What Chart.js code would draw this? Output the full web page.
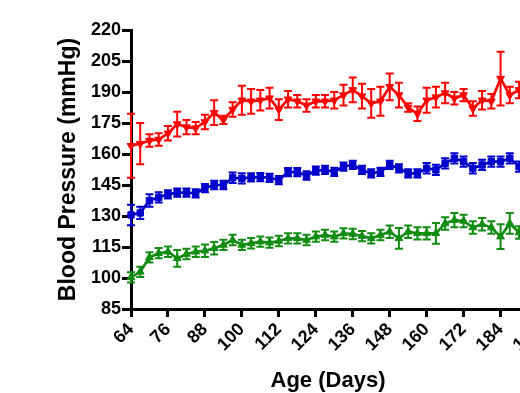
<!DOCTYPE html>
<html>
<head>
<meta charset="utf-8">
<script src="https://cdn.jsdelivr.net/npm/chart.js@4.4.1/dist/chart.umd.min.js"></script>
<style>
  html, body { margin: 0; padding: 0; background: #fff; overflow: hidden; }
  #wrap { width: 520px; height: 393px; overflow: hidden; }
</style>
</head>
<body>
<div id="wrap"><canvas id="bp" width="600" height="393"></canvas></div>
<script>
// ── Dados
const days = [64, 67, 70, 73, 76, 79, 82, 85, 88, 91, 94, 97, 100, 103, 106, 109, 112, 115, 118, 121, 124, 127,
  130, 133, 136, 139, 142, 145, 148, 151, 154, 157, 160, 163, 166, 169, 172, 175, 178, 181, 184, 187, 190];

const redMean = [164, 165, 166.5, 167, 170, 174.5, 173, 172.5, 175.5, 180, 176.5, 181.5, 186, 185.5, 186, 187,
  181.5, 186.5, 185.5, 183.5, 185.5, 185.5, 186, 188.5, 191, 188, 184.5, 185.5, 192.5, 188.5, 182.5, 179.5,
  186, 187.5, 189.5, 187, 188.5, 182, 186, 185.5, 196.5, 188.5, 191];
const redErr = [15.5, 10, 3, 3, 3.5, 6, 3.5, 3, 3.5, 6, 2, 3.5, 7, 6, 5, 5, 5, 4, 3, 3, 3, 3, 4, 5, 6, 6, 7, 7,
  6.5, 6, 2, 3.5, 6, 5, 5, 3, 3, 3.5, 4.5, 3.5, 13, 4, 4];

const blueMean = [130.5, 131.5, 137.5, 139, 140.5, 141.3, 141.3, 141, 143.5, 145, 145, 148.5, 148.2, 148.7, 148.8,
  148.5, 147.4, 151.2, 151.2, 149.6, 152, 152.3, 151.4, 153.9, 154.7, 152.3, 150.6, 151.4, 154.7, 153.1, 150.6,
  150.6, 153.1, 152.3, 155.5, 157.9, 156.3, 153.1, 154.7, 156.3, 156.3, 157.9, 153.9];
const blueErr = [5, 3, 3, 2.5, 2, 2, 2, 2, 2, 2, 2, 2.5, 2.5, 2, 2, 2, 2, 2, 2, 2, 2, 2, 2, 2, 2, 2, 2, 2, 2, 2,
  2, 2, 2.5, 2.5, 2.5, 2.5, 2.5, 2.5, 2.5, 2.5, 2.5, 2.5, 2.5];

const greenMean = [100.3, 103, 110, 112, 112.7, 109.5, 111.6, 112.7, 113.2, 114.4, 116, 118.4, 116, 116.8, 117.6,
  117.1, 117.9, 119.2, 119.2, 118.4, 120, 120.8, 120, 121.6, 121.3, 120.3, 119.2, 120.8, 122.4, 119.2, 122.4,
  121.6, 121.6, 121.6, 126.4, 128, 127.6, 124.4, 126, 124.4, 120, 126.4, 122];
const greenErr = [2.5, 2.5, 2.5, 2.5, 2.5, 4, 2.5, 2.5, 3, 3, 2.5, 2.5, 2.5, 2.5, 2.5, 2.5, 2.5, 2.5, 2.5, 2.5,
  2.5, 2.5, 2.5, 2.5, 2.5, 2.5, 2.5, 2.5, 3, 5, 3, 3, 3, 5, 3, 3.5, 3, 3, 3, 3, 6, 5, 3];

const xTicks = [64, 76, 88, 100, 112, 124, 136, 148, 160, 172, 184, 196];
const yTicks = [85, 100, 115, 130, 145, 160, 175, 190, 205, 220];

const RED = '#ff0000', BLUE = '#0000cc', GREEN = '#128c12';

function pts(mean) { return days.map((d, i) => ({ x: d, y: mean[i] })); }

// ── Barras de erro (desenhadas via escalas do Chart.js)
const errorBars = {
  id: 'errorBars',
  beforeDatasetsDraw(chart) {
    const ctx = chart.ctx, xs = chart.scales.x, ys = chart.scales.y;
    chart.data.datasets.forEach(ds => {
      const err = ds.errors;
      ctx.save();
      ctx.strokeStyle = ds.borderColor;
      ctx.lineWidth = 2;
      ds.data.forEach((p, i) => {
        const x = xs.getPixelForValue(p.x);
        const y1 = ys.getPixelForValue(p.y + err[i]);
        const y2 = ys.getPixelForValue(p.y - err[i]);
        ctx.beginPath();
        ctx.moveTo(x, y1); ctx.lineTo(x, y2);
        ctx.moveTo(x - 4, y1); ctx.lineTo(x + 4, y1);
        ctx.moveTo(x - 4, y2); ctx.lineTo(x + 4, y2);
        ctx.stroke();
      });
      ctx.restore();
    });
  }
};

// ── Título do eixo X (posicionado como no original)
const xTitle = {
  id: 'xTitle',
  afterDraw(chart) {
    const ctx = chart.ctx;
    ctx.save();
    ctx.fillStyle = '#000';
    ctx.font = 'bold 22px "Liberation Sans", Arial, sans-serif';
    ctx.textAlign = 'center';
    ctx.textBaseline = 'middle';
    ctx.fillText('Age (Days)', 328, 381);
    ctx.restore();
  }
};

const tickFont = { family: '"Liberation Sans", Arial, sans-serif', size: 18, weight: 'bold' };

function serie(label, mean, err, color, style, rot) {
  return {
    label, data: pts(mean), errors: err,
    borderColor: color, backgroundColor: color,
    borderWidth: 2.7, pointStyle: style, pointRotation: rot,
    pointRadius: 4.5, pointBorderWidth: 1, tension: 0, clip: false
  };
}

new Chart(document.getElementById('bp').getContext('2d'), {
  type: 'line',
  data: {
    datasets: [
      serie('Red', redMean, redErr, RED, 'triangle', 180),
      serie('Blue', blueMean, blueErr, BLUE, 'rect', 0),
      serie('Green', greenMean, greenErr, GREEN, 'triangle', 0)
    ]
  },
  options: {
    responsive: false, animation: false,
    layout: { padding: { top: 30, right: 44, left: 0, bottom: 0 } },
    plugins: { legend: { display: false }, tooltip: { enabled: false } },
    scales: {
      x: {
        type: 'linear', min: 64, max: 202,
        afterBuildTicks: s => { s.ticks = xTicks.map(v => ({ value: v })); },
        afterFit: s => { s.height = 84; },
        grid: { display: true, drawOnChartArea: false, color: '#000', lineWidth: 3, tickLength: 8 },
        border: { color: '#000', width: 3 },
        ticks: { color: '#000', font: tickFont, minRotation: 45, maxRotation: 45, padding: 2 }
      },
      y: {
        min: 85, max: 220,
        afterBuildTicks: s => { s.ticks = yTicks.map(v => ({ value: v })); },
        afterFit: s => { s.width = 131; },
        grid: { display: true, drawOnChartArea: false, color: '#000', lineWidth: 3, tickLength: 9 },
        border: { color: '#000', width: 3 },
        ticks: { color: '#000', font: tickFont, padding: 1 },
        title: {
          display: true, text: 'Blood Pressure (mmHg)', color: '#000',
          font: { family: '"Liberation Sans", Arial, sans-serif', size: 23, weight: 'bold' },
          padding: { top: 55, bottom: 0 }
        }
      }
    }
  },
  plugins: [errorBars, xTitle]
});
</script>
</body>
</html>
